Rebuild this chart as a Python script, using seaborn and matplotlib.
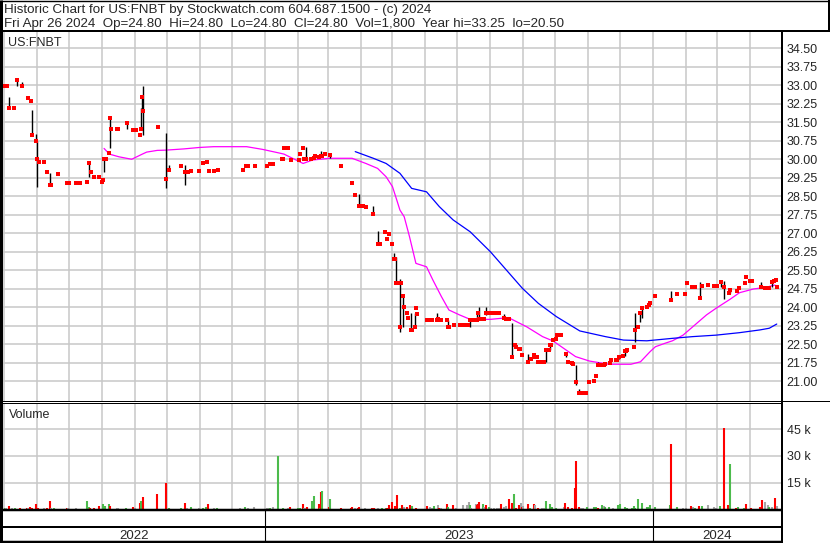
import numpy as np
import pandas as pd
import matplotlib
matplotlib.use("Agg")
import matplotlib.pyplot as plt
from matplotlib.lines import Line2D
import seaborn as sns

# daily closes (red ticks)
close_dates = [
    "2022-05-02", "2022-05-04", "2022-05-06", "2022-05-10", "2022-05-13", "2022-05-18", "2022-05-24",
    "2022-05-26", "2022-05-27", "2022-05-31", "2022-06-01", "2022-06-03", "2022-06-08", "2022-06-10",
    "2022-06-13", "2022-06-14", "2022-06-21", "2022-06-29", "2022-07-01", "2022-07-08", "2022-07-11",
    "2022-07-18", "2022-07-20", "2022-07-22", "2022-07-25", "2022-07-29", "2022-08-01", "2022-08-02",
    "2022-08-03", "2022-08-04", "2022-08-05", "2022-08-08", "2022-08-09", "2022-08-10", "2022-08-15",
    "2022-08-16", "2022-08-25", "2022-08-30", "2022-09-01", "2022-09-02", "2022-09-06", "2022-09-07",
    "2022-09-08", "2022-09-09", "2022-09-23", "2022-09-30", "2022-10-03", "2022-10-14", "2022-10-18",
    "2022-10-20", "2022-10-21", "2022-10-24", "2022-10-31", "2022-11-04", "2022-11-08", "2022-11-10",
    "2022-11-14", "2022-11-18", "2022-12-12", "2022-12-14", "2022-12-16", "2022-12-23",
    "2023-01-03", "2023-01-06", "2023-01-09", "2023-01-17", "2023-01-18", "2023-01-19", "2023-01-23",
    "2023-01-26", "2023-02-02", "2023-02-03", "2023-02-06", "2023-02-07", "2023-02-08", "2023-02-09",
    "2023-02-13", "2023-02-16", "2023-02-17", "2023-02-21", "2023-02-23", "2023-02-24", "2023-02-27",
    "2023-03-03", "2023-03-14", "2023-03-24", "2023-03-27", "2023-03-31", "2023-04-03", "2023-04-06",
    "2023-04-13", "2023-04-17", "2023-04-18", "2023-04-19", "2023-04-24", "2023-04-26", "2023-04-28",
    "2023-05-01", "2023-05-02", "2023-05-03", "2023-05-04", "2023-05-05", "2023-05-08", "2023-05-09",
    "2023-05-11", "2023-05-12", "2023-05-15", "2023-05-16", "2023-05-18", "2023-05-19", "2023-05-22",
    "2023-05-23", "2023-05-24", "2023-06-02", "2023-06-05", "2023-06-06", "2023-06-07", "2023-06-12",
    "2023-06-13", "2023-06-16", "2023-06-21", "2023-06-22", "2023-06-23", "2023-06-28", "2023-07-03",
    "2023-07-05", "2023-07-07", "2023-07-11", "2023-07-13", "2023-07-17", "2023-07-19", "2023-07-20",
    "2023-07-21", "2023-07-24", "2023-07-26", "2023-07-28", "2023-08-01", "2023-08-03", "2023-08-04",
    "2023-08-07", "2023-08-09", "2023-08-14", "2023-08-16", "2023-08-18", "2023-08-21", "2023-08-24",
    "2023-08-25", "2023-08-28", "2023-08-29", "2023-08-31", "2023-09-05", "2023-09-08", "2023-09-11",
    "2023-09-12", "2023-09-14", "2023-09-15", "2023-09-18", "2023-09-20", "2023-09-22", "2023-09-25",
    "2023-09-26", "2023-09-27", "2023-09-29", "2023-10-02", "2023-10-03", "2023-10-06", "2023-10-11",
    "2023-10-13", "2023-10-17", "2023-10-18", "2023-10-20", "2023-10-23", "2023-10-24", "2023-10-26",
    "2023-10-30", "2023-11-02", "2023-11-06", "2023-11-08", "2023-11-10", "2023-11-14", "2023-11-16",
    "2023-11-17", "2023-11-21", "2023-11-22", "2023-11-27", "2023-11-28", "2023-11-30", "2023-12-04",
    "2023-12-05", "2023-12-06", "2023-12-07", "2023-12-14", "2023-12-15", "2023-12-18", "2023-12-20",
    "2023-12-21", "2023-12-26", "2023-12-28", "2023-12-29",
    "2024-01-03", "2024-01-18", "2024-01-23", "2024-01-31", "2024-02-02", "2024-02-06", "2024-02-09",
    "2024-02-14", "2024-02-16", "2024-02-21", "2024-02-27", "2024-03-01", "2024-03-05", "2024-03-07",
    "2024-03-12", "2024-03-13", "2024-03-20", "2024-03-22", "2024-03-27", "2024-03-28", "2024-04-01",
    "2024-04-03", "2024-04-11", "2024-04-15", "2024-04-17", "2024-04-19", "2024-04-22", "2024-04-23",
    "2024-04-25", "2024-04-26",
]
close_vals = [
    32.97, 32.97, 32.07, 32.07, 33.20, 32.97, 32.49,
    32.36, 30.99, 30.72, 29.99, 29.89, 29.89, 29.49,
    28.95, 28.95, 29.40, 29.04, 29.04, 29.04, 29.04,
    29.08, 29.85, 29.47, 29.27, 29.27, 29.08, 29.16,
    29.99, 29.99, 29.99, 30.26, 31.66, 31.23, 31.23,
    31.23, 31.47, 31.19, 31.19, 31.19, 30.97, 31.23,
    32.53, 31.95, 31.31, 29.19, 29.55, 29.72, 29.49,
    29.49, 29.49, 29.51, 29.53, 29.84, 29.89, 29.53,
    29.53, 29.57, 29.57, 29.72, 29.72, 29.72,
    29.73, 29.81, 29.81, 30.01, 30.01, 30.45, 30.45,
    29.97, 29.97, 30.21, 30.45, 30.01, 30.01, 30.01,
    30.01, 30.05, 30.13, 30.09, 30.13, 30.13, 30.21,
    30.16, 29.73, 29.04, 28.55, 28.09, 28.09, 28.05,
    27.77, 26.55, 26.55, 26.55, 27.05, 26.76, 26.96,
    26.55, 25.96, 25.96, 24.99, 24.99, 23.20, 24.99,
    24.45, 24.01, 23.74, 23.57, 23.07, 23.07, 23.20,
    23.97, 23.73, 23.47, 23.47, 23.47, 23.47, 23.47,
    23.53, 23.47, 23.47, 23.20, 23.20, 23.27, 23.27,
    23.27, 23.27, 23.27, 23.47, 23.47, 23.47, 23.74,
    23.50, 23.50, 23.53, 23.77, 23.74, 23.74, 23.74,
    23.74, 23.74, 23.57, 23.53, 23.50, 21.99, 22.46,
    22.39, 22.29, 22.29, 22.07, 21.78, 21.89, 22.05,
    21.99, 21.99, 21.78, 21.78, 21.78, 22.26, 22.26,
    22.46, 22.46, 22.66, 22.69, 22.86, 22.86, 22.08,
    21.78, 21.74, 21.68, 20.97, 20.50, 20.50, 20.50,
    20.50, 20.97, 21.00, 21.20, 21.65, 21.65, 21.65,
    21.68, 21.74, 21.85, 21.85, 21.85, 21.96, 22.01,
    22.23, 22.23, 22.26, 22.39, 23.07, 23.20, 23.77,
    23.97, 24.01, 24.08, 24.15,
    24.46, 24.28, 24.51, 24.51, 24.99, 24.82, 24.82,
    24.38, 24.85, 24.89, 24.86, 24.86, 25.01, 24.82,
    24.58, 24.69, 24.66, 24.76, 24.99, 25.23, 25.05,
    25.05, 24.82, 24.78, 24.78, 24.78, 25.00, 25.05,
    25.09, 24.80,
]

# high-low ranges (black bars)
bar_dates = [
    "2022-05-06", "2022-05-13", "2022-05-18", "2022-05-27", "2022-05-31", "2022-06-01", "2022-06-13",
    "2022-07-20", "2022-08-03", "2022-08-09", "2022-08-25", "2022-09-07", "2022-09-08", "2022-09-09",
    "2022-09-30", "2022-10-03", "2022-10-18",
    "2023-02-09", "2023-02-23", "2023-03-03", "2023-03-31", "2023-04-13", "2023-04-17", "2023-05-02",
    "2023-05-04", "2023-05-08", "2023-05-11", "2023-05-18", "2023-05-22", "2023-06-12", "2023-06-22",
    "2023-07-13", "2023-07-19", "2023-07-21", "2023-07-28", "2023-08-14", "2023-08-21", "2023-09-05",
    "2023-09-22", "2023-09-26", "2023-10-11", "2023-10-18", "2023-10-20", "2023-10-23", "2023-11-10",
    "2023-11-30", "2023-12-05", "2023-12-15", "2023-12-20", "2023-12-21",
    "2024-01-18", "2024-02-14", "2024-03-05", "2024-03-07", "2024-03-13", "2024-04-11", "2024-04-22",
]
bar_hi = [
    32.53, 33.23, 33.11, 31.99, 31.01, 30.73, 29.42,
    29.87, 29.99, 31.69, 31.50, 32.07, 32.53, 32.97,
    31.05, 29.74, 29.74,
    30.47, 30.31, 30.20, 28.57, 28.09, 27.08, 26.18,
    26.04, 25.12, 24.49, 23.77, 23.74, 23.74, 23.47,
    23.47, 23.77, 23.99, 24.01, 23.70, 23.36, 22.09,
    22.26, 22.49, 22.09, 21.74, 21.65, 20.66, 21.78,
    22.03, 22.19, 23.74, 23.78, 23.97,
    24.65, 25.00, 25.00, 25.07, 24.69, 25.00, 25.00,
]
bar_lo = [
    32.06, 32.97, 32.93, 30.97, 30.70, 28.88, 28.95,
    29.26, 29.49, 30.46, 31.23, 31.22, 31.95, 30.97,
    28.84, 29.55, 28.95,
    30.01, 30.13, 30.05, 28.07, 27.77, 26.55, 25.95,
    24.99, 22.97, 23.20, 23.03, 23.20, 23.47, 23.20,
    23.18, 23.47, 23.50, 23.68, 23.57, 21.96, 21.76,
    21.78, 22.26, 21.99, 21.65, 20.84, 20.50, 21.65,
    21.89, 22.01, 22.59, 23.38, 23.57,
    24.28, 24.38, 24.82, 24.31, 24.56, 24.82, 24.82,
]

# moving averages
ma_short_dates = [
    "2022-08-03", "2022-08-08", "2022-08-17", "2022-08-29", "2022-09-08", "2022-09-12", "2022-09-22",
    "2022-09-30", "2022-10-17", "2022-11-01", "2022-11-14", "2022-12-15", "2022-12-30", "2023-01-16",
    "2023-01-19", "2023-02-06", "2023-02-15", "2023-03-03", "2023-03-24", "2023-04-06", "2023-04-17",
    "2023-04-25", "2023-05-01", "2023-05-05", "2023-05-08", "2023-05-12", "2023-05-17", "2023-05-23",
    "2023-06-02", "2023-06-08", "2023-06-16", "2023-06-23", "2023-07-03", "2023-07-13", "2023-08-01",
    "2023-08-18", "2023-09-04", "2023-09-19", "2023-09-29", "2023-10-11", "2023-10-20", "2023-11-02",
    "2023-11-20", "2023-12-11", "2023-12-20", "2023-12-29", "2024-01-03", "2024-01-12", "2024-01-19",
    "2024-01-29", "2024-02-09", "2024-02-20", "2024-02-29", "2024-03-13", "2024-03-22", "2024-04-04",
    "2024-04-16", "2024-04-24", "2024-04-26",
]
ma_short_vals = [
    30.43, 30.20, 30.09, 29.99, 30.20, 30.28, 30.35,
    30.36, 30.41, 30.47, 30.50, 30.50, 30.39, 30.23,
    30.20, 29.82, 29.96, 30.03, 30.03, 29.82, 29.62,
    29.28, 28.88, 28.34, 27.93, 27.66, 26.85, 25.77,
    25.63, 25.09, 24.42, 23.88, 23.68, 23.50, 23.50,
    23.57, 23.20, 22.80, 22.62, 22.26, 21.99, 21.81,
    21.68, 21.68, 21.78, 22.19, 22.39, 22.53, 22.63,
    22.86, 23.27, 23.68, 23.95, 24.31, 24.58, 24.73,
    24.80, 24.89, 24.85,
]
ma_long_dates = [
    "2023-03-27", "2023-04-13", "2023-04-25", "2023-05-08", "2023-05-19", "2023-06-02", "2023-06-14",
    "2023-06-27", "2023-07-13", "2023-08-01", "2023-08-16", "2023-08-31", "2023-09-15", "2023-10-02",
    "2023-10-24", "2023-11-17", "2023-12-04", "2023-12-26", "2024-01-19", "2024-02-07", "2024-02-29",
    "2024-03-22", "2024-04-10", "2024-04-19", "2024-04-26",
]
ma_long_vals = [
    30.30, 30.03, 29.82, 29.42, 28.81, 28.67, 28.07,
    27.53, 27.05, 26.24, 25.50, 24.76, 24.15, 23.61,
    23.03, 22.80, 22.66, 22.63, 22.73, 22.80, 22.86,
    22.96, 23.07, 23.14, 23.31,
]

# daily volume, u = up day, d = down day, f = unchanged
vol_dates = [
    "2022-05-02", "2022-05-03", "2022-05-06", "2022-05-09", "2022-05-11", "2022-05-16", "2022-05-23",
    "2022-05-24", "2022-05-25", "2022-05-27", "2022-05-31", "2022-06-02", "2022-06-08", "2022-06-10",
    "2022-06-13", "2022-06-14", "2022-06-17", "2022-06-29", "2022-06-30", "2022-07-08", "2022-07-18",
    "2022-07-20", "2022-07-21", "2022-07-25", "2022-07-29", "2022-08-02", "2022-08-04", "2022-08-08",
    "2022-08-09", "2022-08-15", "2022-08-16", "2022-08-24", "2022-08-30", "2022-09-01", "2022-09-06",
    "2022-09-07", "2022-09-09", "2022-09-22", "2022-09-30", "2022-10-03", "2022-10-14", "2022-10-18",
    "2022-10-20", "2022-10-24", "2022-10-31", "2022-11-04", "2022-11-07", "2022-11-09", "2022-11-14",
    "2022-11-17", "2022-12-09", "2022-12-13", "2022-12-16", "2022-12-22",
    "2023-01-03", "2023-01-04", "2023-01-05", "2023-01-06", "2023-01-09", "2023-01-13", "2023-01-18",
    "2023-01-23", "2023-01-25", "2023-02-01", "2023-02-03", "2023-02-06", "2023-02-07", "2023-02-08",
    "2023-02-10", "2023-02-14", "2023-02-16", "2023-02-21", "2023-02-22", "2023-02-23", "2023-02-24",
    "2023-03-02", "2023-03-03", "2023-03-14", "2023-03-23", "2023-03-24", "2023-03-27", "2023-03-30",
    "2023-03-31", "2023-04-05", "2023-04-12", "2023-04-14", "2023-04-17", "2023-04-21", "2023-04-25",
    "2023-04-26", "2023-04-28", "2023-05-01", "2023-05-03", "2023-05-05", "2023-05-08", "2023-05-10",
    "2023-05-12", "2023-05-15", "2023-05-17", "2023-05-19", "2023-05-23", "2023-06-02", "2023-06-05",
    "2023-06-07", "2023-06-09", "2023-06-13", "2023-06-14", "2023-06-16", "2023-06-21", "2023-06-22",
    "2023-06-27", "2023-06-30", "2023-07-06", "2023-07-10", "2023-07-12", "2023-07-13", "2023-07-14",
    "2023-07-18", "2023-07-19", "2023-07-20", "2023-07-21", "2023-07-25", "2023-07-26", "2023-07-28",
    "2023-07-31", "2023-08-02", "2023-08-04", "2023-08-07", "2023-08-09", "2023-08-11", "2023-08-14",
    "2023-08-16", "2023-08-18", "2023-08-21", "2023-08-23", "2023-08-25", "2023-08-28", "2023-08-30",
    "2023-08-31", "2023-09-01", "2023-09-05", "2023-09-07", "2023-09-11", "2023-09-12", "2023-09-15",
    "2023-09-18", "2023-09-20", "2023-09-22", "2023-09-26", "2023-09-28", "2023-10-02", "2023-10-09",
    "2023-10-10", "2023-10-13", "2023-10-17", "2023-10-19", "2023-10-20", "2023-10-23", "2023-10-25",
    "2023-10-27", "2023-10-31", "2023-11-06", "2023-11-08", "2023-11-10", "2023-11-14", "2023-11-16",
    "2023-11-17", "2023-11-20", "2023-11-24", "2023-11-29", "2023-12-01", "2023-12-05", "2023-12-07",
    "2023-12-12", "2023-12-14", "2023-12-15", "2023-12-18", "2023-12-21", "2023-12-26", "2023-12-27",
    "2023-12-29",
    "2024-01-03", "2024-01-17", "2024-01-18", "2024-01-23", "2024-01-29", "2024-02-01", "2024-02-05",
    "2024-02-07", "2024-02-09", "2024-02-13", "2024-02-16", "2024-02-21", "2024-02-27", "2024-02-29",
    "2024-03-04", "2024-03-07", "2024-03-11", "2024-03-13", "2024-03-19", "2024-03-21", "2024-03-26",
    "2024-03-28", "2024-04-02", "2024-04-10", "2024-04-12", "2024-04-15", "2024-04-18", "2024-04-19",
    "2024-04-22", "2024-04-24", "2024-04-26",
]
vol_values = [
    840, 840, 1700, 840, 840, 840, 840,
    840, 1400, 840, 3200, 840, 840, 1100,
    4900, 840, 840, 840, 1100, 840, 5000,
    1400, 840, 840, 2200, 3200, 1700, 3200,
    2200, 840, 840, 840, 1400, 840, 3900,
    5000, 7200, 8400, 15000, 840, 840, 3900,
    840, 1400, 840, 840, 1400, 3200, 840,
    840, 840, 1400, 840, 1400,
    840, 840, 840, 1100, 1500, 30000, 840,
    840, 1300, 840, 840, 2900, 900, 900,
    1300, 4800, 7400, 2900, 840, 9800, 10400,
    1300, 5900, 840, 840, 1300, 840, 840,
    1300, 840, 840, 840, 840, 840, 840,
    840, 2600, 4300, 2100, 8200, 840, 2600,
    1300, 1300, 2400, 1900, 840, 2100, 1300,
    840, 1900, 2400, 840, 840, 3100, 1300,
    2600, 840, 2600, 2600, 4100, 2600, 840,
    3100, 2400, 2900, 4300, 3100, 1300, 2600,
    1300, 840, 840, 840, 840, 3100, 1300,
    2100, 5900, 3500, 8700, 840, 2600, 3500,
    1300, 2100, 3000, 840, 2900, 2400, 840,
    840, 840, 4800, 3100, 1300, 840, 1300,
    3600, 1300, 840, 12000, 27200, 1300, 840,
    840, 1300, 1300, 1300, 840, 2600, 2100,
    1300, 1300, 840, 2600, 3100, 1300, 840,
    840, 2100, 840, 5900, 3600, 1300, 1300,
    2600,
    1300, 2600, 36700, 1300, 840, 840, 2100,
    1300, 840, 2100, 2100, 2600, 1300, 840,
    2100, 45600, 2600, 25500, 840, 1300, 840,
    3100, 840, 1300, 5300, 4300, 2600, 1300,
    1300, 6600, 1800,
]
vol_dir = list(
    "ufdfudd" "fddddfd" "dfudffu" "uddduuu" "dffudfd" "uddduud" "fufuudf" "ufuff"
    "fffufuu" "fduudff" "duududu" "dudddfd" "dfddfuu" "dddddud" "fdduddf"
    "fufdfdu" "dffffuf" "fdddufd" "uffffdf" "fdduddf"
    "dfdudfd" "ffuuuuf" "ddddddf" "fuuuduf" "uufuuuu" "uuuuuuu" "u"
    "uuduffd" "fudufff" "udduduu" "ddddffu" "fdf"
)

header_1 = "Historic Chart for US:FNBT by Stockwatch.com 604.687.1500 - (c) 2024"
header_2 = ("Fri Apr 26 2024  Op=24.80  Hi=24.80  Lo=24.80  Cl=24.80  "
            "Vol=1,800  Year hi=33.25  lo=20.50")
price_ticks = np.arange(21.0, 34.51, 0.75)
vol_ticks = [15000, 30000, 45000]
vol_tick_labels = ["15 k", "30 k", "45 k"]
years = ["2022", "2023", "2024"]
x_start, x_end = pd.Timestamp("2022-04-30 02:00"), pd.Timestamp("2024-04-30")

sns.set_style("white")
plt.rcParams["font.family"] = ["Liberation Sans", "DejaVu Sans"]
plt.rcParams["font.size"] = 9

W, H = 830, 543
fig = plt.figure(figsize=(W / 100, H / 100), dpi=100)


def box(x0, y0, x1, y1):
    return [x0 / W, 1 - y1 / H, (x1 - x0) / W, (y1 - y0) / H]


def hline(y, x0, x1, lw):
    fig.add_artist(Line2D([x0 / W, x1 / W], [1 - y / H, 1 - y / H], transform=fig.transFigure,
                          color="black", lw=lw * 0.72, solid_capstyle="butt"))


def vline(x, y0, y1, lw):
    fig.add_artist(Line2D([x / W, x / W], [1 - y0 / H, 1 - y1 / H], transform=fig.transFigure,
                          color="black", lw=lw * 0.72, solid_capstyle="butt"))


grid_kw = dict(color="#c8c8c8", linewidth=1.1)
months = pd.date_range("2022-05-01", "2024-04-01", freq="MS")

# price panel
ax = fig.add_axes(box(3, 31, 781, 401))
ax.vlines(pd.to_datetime(bar_dates), bar_lo, bar_hi, color="black", linewidth=1.0, zorder=3)
sns.lineplot(x=pd.to_datetime(ma_short_dates), y=ma_short_vals, color="#ff00ff", linewidth=0.9, ax=ax, zorder=2)
sns.lineplot(x=pd.to_datetime(ma_long_dates), y=ma_long_vals, color="#0000ff", linewidth=0.9, ax=ax, zorder=2)
sns.scatterplot(x=pd.to_datetime(close_dates), y=close_vals, marker="s", s=5, color="#ff0000",
                linewidth=0, ax=ax, zorder=4)
ax.set_xlim(x_start, x_end)
ax.set_ylim(20.19, 35.19)
ax.set_xticks(months)
ax.set_yticks(price_ticks)
ax.set_yticklabels([f"{v:.2f}" for v in price_ticks])
ax.yaxis.tick_right()
ax.tick_params(axis="both", length=0, labelbottom=False, pad=4, labelsize=9)
ax.grid(True, **grid_kw)
ax.set_axisbelow(True)
ax.set_xlabel("")
ax.set_ylabel("")
for s in ax.spines.values():
    s.set_visible(False)
ax.text(5 / 778, 1 - 15 / 370, "US:FNBT", transform=ax.transAxes, fontsize=9, va="baseline")

# volume panel
vax = fig.add_axes(box(3, 402.5, 781, 509.5))
colors = {"u": "#4cbb4c", "d": "#ff0000", "f": "#a6a6a6"}
vax.vlines(pd.to_datetime(vol_dates), 0, vol_values, colors=[colors[c] for c in vol_dir],
           linewidth=1.5, zorder=3)
vax.set_xlim(x_start, x_end)
vax.set_ylim(0, 59900)
vax.set_xticks(months)
vax.set_yticks(vol_ticks)
vax.set_yticklabels(vol_tick_labels)
vax.yaxis.tick_right()
vax.tick_params(axis="both", length=0, labelbottom=False, pad=4, labelsize=9)
vax.grid(True, **grid_kw)
vax.set_axisbelow(True)
for s in vax.spines.values():
    s.set_visible(False)
vax.text(6 / 778, 1 - 16 / 107, "Volume", transform=vax.transAxes, fontsize=9, va="baseline")

# date band
dax = fig.add_axes(box(3, 509.5, 781, 542))
dax.set_xlim(x_start, x_end)
dax.set_ylim(0, 1)
for ys in [pd.Timestamp("2023-01-01"), pd.Timestamp("2024-01-01")]:
    dax.axvline(ys, color="black", linewidth=0.8)
edges = [x_start, pd.Timestamp("2023-01-01"), pd.Timestamp("2024-01-01"), x_end]
for i, yr in enumerate(years):
    mid = edges[i] + (edges[i + 1] - edges[i]) / 2
    dax.text(mid, 0.09, yr, ha="center", va="baseline", fontsize=9.5)
dax.set_xticks([])
dax.set_yticks([])
for s in dax.spines.values():
    s.set_visible(False)

# header
fig.text(4 / W, 1 - 13.3 / H, header_1, fontsize=9.6, va="baseline")
fig.text(4 / W, 1 - 26.5 / H, header_2, fontsize=9.6, va="baseline")

# frame lines
hline(0.7, 0, W, 1.4)
hline(30.5, 0, W, 2)
vline(1.3, 0, H, 3)
vline(829, 0, 31, 2)
vline(781.5, 31, H, 2)
hline(400.8, 0, W, 1)
hline(402.8, 0, 782, 1)
hline(509.5, 0, 782, 2.5)
hline(527, 0, 782, 2)
hline(541.8, 0, 782, 2.5)

fig.savefig("out.png", dpi=100)
